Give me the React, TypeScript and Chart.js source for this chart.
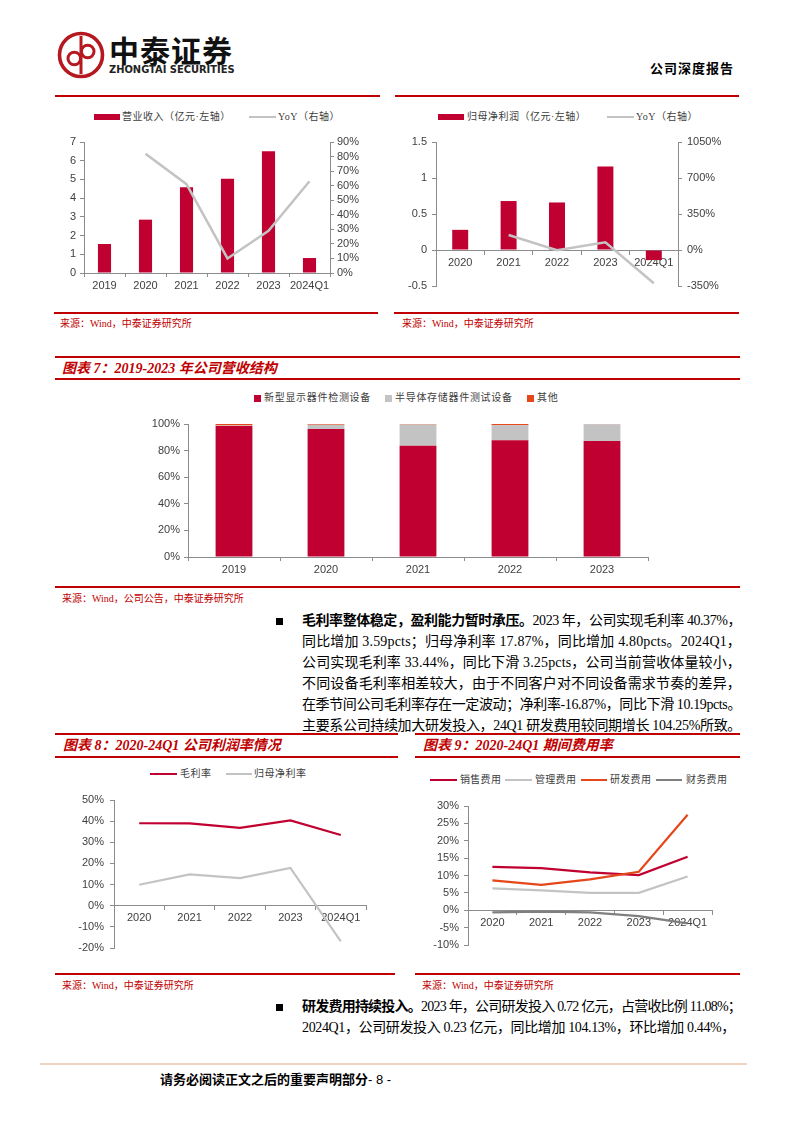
import React, { useEffect, useLayoutEffect, useRef } from 'react';
import { Chart, registerables } from 'chart.js';

Chart.register(...registerables);

// ---------------- data ----------------
const revYears = ['2019', '2020', '2021', '2022', '2023', '2024Q1'];
const revenue = [1.55, 2.85, 4.58, 5.04, 6.5, 0.8];
const revYoY = [null, 82, 61, 10, 29, 63];

const npYears = ['2020', '2021', '2022', '2023', '2024Q1'];
const netProfit = [0.28, 0.68, 0.66, 1.16, -0.14];
const npYoY = [null, 146, -3, 75, -324];

const mixYears = ['2019', '2020', '2021', '2022', '2023'];
const displayShare = [98.5, 96.2, 83.7, 87.8, 87.2];
const semiShare = [0.3, 3.3, 16.0, 11.2, 12.6];
const otherShare = [1.2, 0.5, 0.3, 1.0, 0.2];

const marginYears = ['2020', '2021', '2022', '2023', '2024Q1'];
const grossMargin = [39.0, 38.9, 36.8, 40.37, 33.44];
const netMargin = [9.9, 14.8, 13.07, 17.87, -16.87];

const expYears = ['2020', '2021', '2022', '2023', '2024Q1'];
const sellingRate = [12.5, 12.1, 10.9, 10.1, 15.4];
const adminRate = [6.3, 5.7, 5.0, 5.0, 9.7];
const rdRate = [8.6, 7.3, 8.9, 11.08, 27.5];
const financeRate = [-0.6, -0.4, -0.6, -1.7, -3.8];

const revTicksLeft = { min: 0, max: 7, step: 1 };
const revTicksRight = { min: 0, max: 90, step: 10 };
const npTicksLeft = { min: -0.5, max: 1.5, step: 0.5 };
const npTicksRight = { min: -350, max: 1050, step: 350 };
const mixTicks = { min: 0, max: 100, step: 20 };
const marginTicks = { min: -20, max: 50, step: 10 };
const expTicks = { min: -10, max: 30, step: 5 };

// ---------------- styles ----------------
const SANS = '"Liberation Sans", Arial, sans-serif';
const CJK = '"Liberation Serif", "Noto Sans CJK SC", serif';
const CRIMSON = '#C00030';
const LGRAY = '#C3C3C3';
const ORANGE = '#E5471A';
const DGRAY = '#7F7F7F';
const RULE = '#C00000';
const AX = '#8C8C8C';
const TXT = '#404040';

Chart.defaults.font.family = SANS;
Chart.defaults.color = TXT;

const pct = (v: any) => v + '%';
const plain = (v: any) => String(v);

function yScale(o: any) {
  return {
    type: 'linear',
    position: o.position,
    min: o.min,
    max: o.max,
    ticks: {
      stepSize: o.step,
      callback: o.fmt,
      font: { family: SANS, size: 11 },
      color: TXT,
      padding: o.pad,
      autoSkip: false,
    },
    grid: { drawOnChartArea: false, drawTicks: true, tickLength: 4, color: AX },
    border: { display: true, color: AX, width: 1 },
    afterFit: (s: any) => {
      s.width = o.width;
    },
  };
}

function xScale(o: any) {
  const sc: any = {
    type: 'category',
    position: o.position ?? 'bottom',
    offset: true,
    stacked: !!o.stacked,
    ticks: { font: { family: SANS, size: 11 }, color: TXT, padding: o.pad ?? 2, maxRotation: 0, autoSkip: false },
    grid: { offset: true, drawOnChartArea: false, drawTicks: true, tickLength: 4, color: AX },
    border: { display: true, color: AX, width: 1 },
  };
  if (o.height != null) {
    sc.afterFit = (s: any) => {
      s.height = o.height;
    };
  }
  return sc;
}

function common(padding: any) {
  return {
    responsive: false,
    maintainAspectRatio: false,
    animation: false,
    events: [],
    layout: { padding },
    plugins: { legend: { display: false }, tooltip: { enabled: false }, title: { display: false } },
  };
}

const lineDs = (label: string, data: any[], color: string, extra: any = {}) => ({
  type: 'line',
  label,
  data,
  borderColor: color,
  backgroundColor: color,
  borderWidth: 2.2,
  pointRadius: 0,
  tension: 0,
  fill: false,
  ...extra,
});

// ---------------- chart configs ----------------
const revenueConfig = () => ({
  type: 'bar',
  data: {
    labels: revYears,
    datasets: [
      lineDs('YoY（右轴）', revYoY, LGRAY, { yAxisID: 'y1', order: 1, borderWidth: 2.5 }),
      {
        type: 'bar',
        label: '营业收入（亿元·左轴）',
        data: revenue,
        yAxisID: 'y',
        backgroundColor: CRIMSON,
        barPercentage: 0.32,
        categoryPercentage: 1,
        order: 2,
      },
    ],
  },
  options: {
    ...common({ top: 14, bottom: 0, left: 0, right: 0 }),
    scales: {
      x: xScale({ height: 27 }),
      y: yScale({ position: 'left', ...revTicksLeft, width: 44, pad: 4, fmt: plain }),
      y1: yScale({ position: 'right', ...revTicksRight, width: 50, pad: 3, fmt: pct }),
    },
  },
});

const profitConfig = () => ({
  type: 'bar',
  data: {
    labels: npYears,
    datasets: [
      lineDs('YoY（右轴）', npYoY, LGRAY, { yAxisID: 'y1', order: 1, borderWidth: 2.5 }),
      {
        type: 'bar',
        label: '归母净利润（亿元·左轴）',
        data: netProfit,
        yAxisID: 'y',
        backgroundColor: CRIMSON,
        barPercentage: 0.33,
        categoryPercentage: 1,
        order: 2,
      },
    ],
  },
  options: {
    ...common({ top: 14, bottom: 14, left: 0, right: 0 }),
    scales: {
      x: xScale({ position: { y: 0 } }),
      y: yScale({ position: 'left', ...npTicksLeft, width: 46, pad: 5, fmt: plain }),
      y1: yScale({ position: 'right', ...npTicksRight, width: 62, pad: 5, fmt: pct }),
    },
  },
});

const mixConfig = () => ({
  type: 'bar',
  data: {
    labels: mixYears,
    datasets: [
      { label: '新型显示器件检测设备', data: displayShare, backgroundColor: CRIMSON, barPercentage: 0.4, categoryPercentage: 1 },
      { label: '半导体存储器件测试设备', data: semiShare, backgroundColor: LGRAY, barPercentage: 0.4, categoryPercentage: 1 },
      { label: '其他', data: otherShare, backgroundColor: ORANGE, barPercentage: 0.4, categoryPercentage: 1 },
    ],
  },
  options: {
    ...common({ top: 14, bottom: 0, left: 0, right: 72 }),
    scales: {
      x: xScale({ height: 25, stacked: true }),
      y: { ...yScale({ position: 'left', ...mixTicks, width: 88, pad: 4, fmt: pct }), stacked: true },
    },
  },
});

const marginConfig = () => ({
  type: 'line',
  data: {
    labels: marginYears,
    datasets: [
      lineDs('毛利率', grossMargin, CRIMSON, { order: 1 }),
      lineDs('归母净利率', netMargin, LGRAY, { order: 2 }),
    ],
  },
  options: {
    ...common({ top: 14, bottom: 14, left: 0, right: 19 }),
    scales: {
      x: xScale({ position: { y: 0 } }),
      y: yScale({ position: 'left', ...marginTicks, width: 59, pad: 6, fmt: pct }),
    },
  },
});

const expenseConfig = () => ({
  type: 'line',
  data: {
    labels: expYears,
    datasets: [
      lineDs('销售费用', sellingRate, CRIMSON, { order: 2 }),
      lineDs('管理费用', adminRate, LGRAY, { order: 3 }),
      lineDs('研发费用', rdRate, ORANGE, { order: 1 }),
      lineDs('财务费用', financeRate, DGRAY, { order: 4 }),
    ],
  },
  options: {
    ...common({ top: 14, bottom: 15, left: 0, right: 23 }),
    scales: {
      x: xScale({ position: { y: 0 } }),
      y: yScale({ position: 'left', ...expTicks, width: 58, pad: 5, fmt: pct }),
    },
  },
});

// ---------------- components ----------------
function ChartBox({ x, y, w, h, config }: any) {
  const ref = useRef<HTMLCanvasElement>(null);
  useEffect(() => {
    const c = new Chart(ref.current as HTMLCanvasElement, config() as any);
    return () => c.destroy();
  }, []);
  return (
    <canvas
      ref={ref}
      width={w}
      height={h}
      style={{ position: 'absolute', left: x, top: y, width: w, height: h }}
    />
  );
}

function T({ x, y, size = 10, color = '#000', family = CJK, weight = 400, italic = false, ls = 0, children }: any) {
  return (
    <div
      style={{
        position: 'absolute',
        left: x,
        top: y,
        transform: 'translateY(-50%)',
        fontSize: size,
        lineHeight: 1.2,
        color,
        fontFamily: family,
        fontWeight: weight,
        fontStyle: italic ? 'italic' : 'normal',
        letterSpacing: ls,
        whiteSpace: 'nowrap',
      }}
    >
      {children}
    </div>
  );
}

function HL({ x1, x2, y, h = 1.5, c = RULE }: any) {
  return <div style={{ position: 'absolute', left: x1, top: y - h / 2, width: x2 - x1, height: h, background: c }} />;
}

function Box({ x, y, w, h, c }: any) {
  return <div style={{ position: 'absolute', left: x, top: y - h / 2, width: w, height: h, background: c }} />;
}

function JLine({ x, y, w, size = 14, children }: any) {
  const ref = useRef<HTMLDivElement>(null);
  useLayoutEffect(() => {
    const el = ref.current;
    if (!el) return;
    el.style.letterSpacing = '0px';
    const nat = el.getBoundingClientRect().width;
    const n = Array.from(el.textContent || '').length;
    if (n > 0) el.style.letterSpacing = (w - nat) / n + 'px';
  }, [w]);
  return (
    <div
      ref={ref}
      style={{
        position: 'absolute',
        left: x,
        top: y,
        transform: 'translateY(-50%)',
        fontSize: size,
        lineHeight: 1.2,
        fontFamily: CJK,
        color: '#000',
        whiteSpace: 'nowrap',
        display: 'inline-block',
      }}
    >
      {children}
    </div>
  );
}

function Bullet({ x, y }: any) {
  return <div style={{ position: 'absolute', left: x, top: y - 3.5, width: 7, height: 7, background: '#000' }} />;
}

function Logo() {
  return (
    <svg style={{ position: 'absolute', left: 57, top: 31 }} width={48} height={48} viewBox="0 0 48 48">
      <circle cx={24} cy={24} r={21.5} fill="#fff" stroke="#B5191F" strokeWidth={3.6} />
      <line x1={24} y1={5} x2={24} y2={43} stroke="#B5191F" strokeWidth={3} />
      <circle cx={17.3} cy={27.5} r={6.3} fill="none" stroke="#B5191F" strokeWidth={3} />
      <circle cx={30.7} cy={20.5} r={6.3} fill="none" stroke="#B5191F" strokeWidth={3} />
    </svg>
  );
}

const SRC = (x: number, y: number, text: string) => (
  <T x={x} y={y} size={10} color={RULE}>
    {text}
  </T>
);

export default function App() {
  return (
    <div
      style={{
        position: 'absolute',
        left: 0,
        top: 0,
        width: 794,
        height: 1123,
        background: '#fff',
        overflow: 'hidden',
        fontFamily: CJK,
      }}
    >
      {/* header */}
      <Logo />
      <T x={109} y={49} size={30} weight={700} family={'"Noto Sans CJK SC", sans-serif'} color="#111" ls={1}>
        中泰证券
      </T>
      <T x={109} y={70} size={11} weight={700} family={'"Liberation Sans Narrow", "DejaVu Sans Condensed", sans-serif'} color="#222">
        ZHONGTAI SECURITIES
      </T>
      <T x={650} y={68} size={13} weight={700} family={'"Noto Sans CJK SC", sans-serif'} ls={1}>
        公司深度报告
      </T>
      <HL x1={55} x2={380} y={96} />
      <HL x1={395} x2={739} y={96} />

      {/* chart 1: revenue */}
      <Box x={94} y={117} w={26} h={6} c={CRIMSON} />
      <T x={122} y={117} size={10} color={TXT} ls={0.5}>营业收入（亿元·左轴）</T>
      <Box x={249} y={117} w={27} h={2.5} c={LGRAY} />
      <T x={278} y={117} size={10} color={TXT} ls={0.5}>YoY（右轴）</T>
      <ChartBox x={40} y={128} w={340} h={172} config={revenueConfig} />
      <HL x1={54} x2={378} y={313} />
      {SRC(60, 324, '来源：Wind，中泰证券研究所')}

      {/* chart 2: net profit */}
      <Box x={438} y={117} w={26} h={6} c={CRIMSON} />
      <T x={467} y={117} size={10} color={TXT} ls={0.5}>归母净利润（亿元·左轴）</T>
      <Box x={607} y={117} w={27} h={2.5} c={LGRAY} />
      <T x={636} y={117} size={10} color={TXT} ls={0.5}>YoY（右轴）</T>
      <ChartBox x={390} y={128} w={350} h={172} config={profitConfig} />
      <HL x1={394} x2={739} y={313} />
      {SRC(402, 324, '来源：Wind，中泰证券研究所')}

      {/* chart 7 */}
      <HL x1={55} x2={740} y={357} />
      <T x={62} y={369} size={14} weight={700} italic color={RULE}>图表 7：2019-2023 年公司营收结构</T>
      <HL x1={55} x2={740} y={379} />
      <Box x={254} y={398} w={7} h={7} c={CRIMSON} />
      <T x={264} y={398} size={10} color={TXT} ls={0.7}>新型显示器件检测设备</T>
      <Box x={385} y={398} w={7} h={7} c={LGRAY} />
      <T x={395} y={398} size={10} color={TXT} ls={0.7}>半导体存储器件测试设备</T>
      <Box x={527} y={398} w={7} h={7} c={ORANGE} />
      <T x={537} y={398} size={10} color={TXT} ls={0.7}>其他</T>
      <ChartBox x={100} y={410} w={620} h={172} config={mixConfig} />
      <HL x1={55} x2={740} y={587} />
      {SRC(62, 599, '来源：Wind，公司公告，中泰证券研究所')}

      {/* paragraph 1 */}
      <Bullet x={276} y={621} />
      <JLine x={302} y={621} w={439}>
        <b>毛利率整体稳定，盈利能力暂时承压。</b>2023 年，公司实现毛利率 40.37%，
      </JLine>
      <JLine x={302} y={642} w={439}>同比增加 3.59pcts；归母净利率 17.87%，同比增加 4.80pcts。2024Q1，</JLine>
      <JLine x={302} y={663} w={439}>公司实现毛利率 33.44%，同比下滑 3.25pcts，公司当前营收体量较小，</JLine>
      <JLine x={302} y={684} w={439}>不同设备毛利率相差较大，由于不同客户对不同设备需求节奏的差异，</JLine>
      <JLine x={302} y={705} w={439}>在季节间公司毛利率存在一定波动；净利率-16.87%，同比下滑 10.19pcts。</JLine>
      <JLine x={302} y={726} w={439}>主要系公司持续加大研发投入，24Q1 研发费用较同期增长 104.25%所致。</JLine>

      {/* chart 8 */}
      <HL x1={55} x2={398} y={734} />
      <T x={63} y={746} size={14} weight={700} italic color={RULE}>图表 8：2020-24Q1 公司利润率情况</T>
      <HL x1={55} x2={398} y={757} />
      <Box x={150} y={774} w={27} h={2.5} c={CRIMSON} />
      <T x={180} y={774} size={10} color={TXT} ls={0.5}>毛利率</T>
      <Box x={226} y={774} w={26} h={2.5} c={LGRAY} />
      <T x={254} y={774} size={10} color={TXT} ls={0.5}>归母净利率</T>
      <ChartBox x={55} y={786} w={330} h={176} config={marginConfig} />
      <HL x1={55} x2={395} y={974} />
      {SRC(62, 986, '来源：Wind，中泰证券研究所')}

      {/* chart 9 */}
      <HL x1={415} x2={740} y={734} />
      <T x={423} y={746} size={14} weight={700} italic color={RULE}>图表 9：2020-24Q1 期间费用率</T>
      <HL x1={415} x2={740} y={757} />
      <Box x={430} y={780} w={27} h={2.5} c={CRIMSON} />
      <T x={460} y={780} size={10} color={TXT} ls={0.3}>销售费用</T>
      <Box x={505} y={780} w={27} h={2.5} c={LGRAY} />
      <T x={535} y={780} size={10} color={TXT} ls={0.3}>管理费用</T>
      <Box x={581} y={780} w={26} h={2.5} c={ORANGE} />
      <T x={610} y={780} size={10} color={TXT} ls={0.3}>研发费用</T>
      <Box x={656} y={780} w={26} h={2.5} c={DGRAY} />
      <T x={686} y={780} size={10} color={TXT} ls={0.3}>财务费用</T>
      <ChartBox x={410} y={792} w={325} h={168} config={expenseConfig} />
      <HL x1={415} x2={740} y={974} />
      {SRC(422, 986, '来源：Wind，中泰证券研究所')}

      {/* paragraph 2 */}
      <Bullet x={276} y={1007} />
      <JLine x={302} y={1007} w={439}>
        <b>研发费用持续投入。</b>2023 年，公司研发投入 0.72 亿元，占营收比例 11.08%；
      </JLine>
      <JLine x={302} y={1028} w={433}>2024Q1，公司研发投入 0.23 亿元，同比增加 104.13%，环比增加 0.44%，</JLine>

      {/* footer */}
      <HL x1={40} x2={747} y={1064} h={2} c="#F0D2C2" />
      <T x={160} y={1079} size={13} weight={700} family={'"Noto Sans CJK SC", sans-serif'}>
        请务必阅读正文之后的重要声明部分<span style={{ fontFamily: SANS, fontWeight: 400 }}>- 8 -</span>
      </T>
    </div>
  );
}
